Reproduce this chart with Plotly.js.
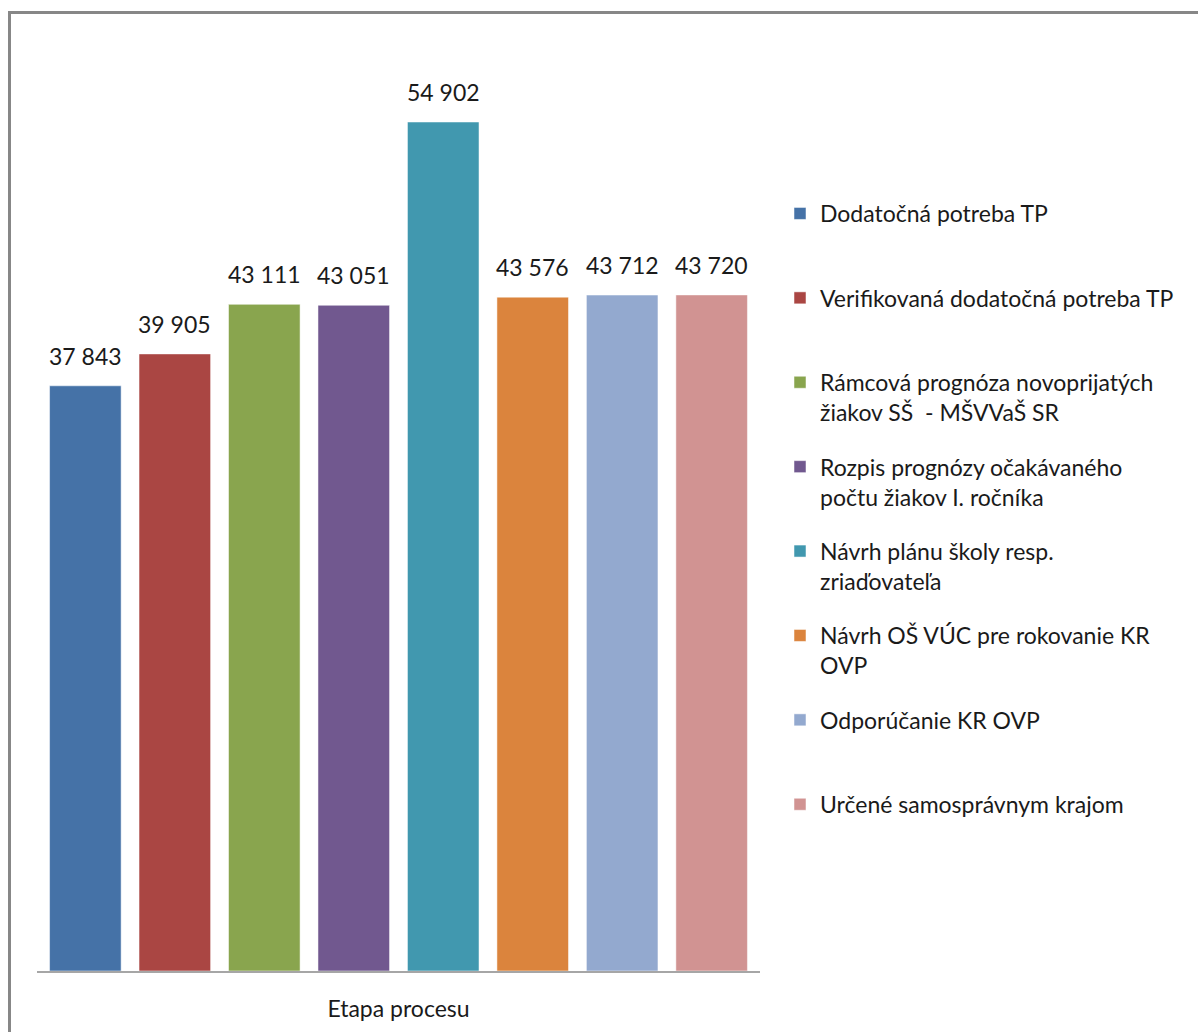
<!DOCTYPE html>
<html>
<head>
<meta charset="utf-8">
<script src="https://cdn.plot.ly/plotly-3.0.1.min.js"></script>
<style>
  html, body { margin: 0; padding: 0; background: #fff; }
  #wrap { position: relative; width: 1198px; height: 1032px; overflow: hidden; }
  #frame { position: absolute; left: 8px; top: 11px; width: 1300px; height: 1200px;
           border-top: 3px solid #878787; border-left: 3px solid #878787; pointer-events: none; }
  #chart { position: absolute; left: 0; top: 0; width: 1198px; height: 1032px; }
</style>
</head>
<body>
<div id="wrap">
  <div id="chart"></div>
  <div id="frame"></div>
</div>
<script>
const categories = ['Etapa procesu'];
const seriesNames = [
  'Dodatočná potreba TP',
  'Verifikovaná dodatočná potreba TP',
  'Rámcová prognóza novoprijatých<br>žiakov SŠ  - MŠVVaŠ SR',
  'Rozpis prognózy očakávaného<br>počtu žiakov I. ročníka',
  'Návrh plánu školy resp.<br>zriaďovateľa',
  'Návrh OŠ VÚC pre rokovanie KR<br>OVP',
  'Odporúčanie KR OVP',
  'Určené samosprávnym krajom'
];
const seriesValues = [37843, 39905, 43111, 43051, 54902, 43576, 43712, 43720];
const seriesColors = ['#4572A7', '#AA4643', '#89A54E', '#71588F', '#4198AF', '#DB843D', '#93A9CF', '#D19392'];

const FONT = 'Lato, "Open Sans", sans-serif';
const bargap = 0.01;
const n = seriesNames.length;

function fmt(v) { return String(v).replace(/\B(?=(\d{3})+(?!\d))/g, ' '); }

const traces = seriesNames.map((name, i) => ({
  type: 'bar',
  name: name.indexOf('<br>') >= 0 ? name : name + '<br>\u00a0',
  x: categories,
  y: [seriesValues[i]],
  marker: { color: seriesColors[i], line: { width: 1, color: 'rgba(255,255,255,0.5)' } },
  legendgroup: 'g' + i,
  hoverinfo: 'none'
}));

const annotations = seriesValues.map((v, i) => ({
  xref: 'x', yref: 'y',
  x: (i - (n - 1) / 2) * (1 - bargap) / n,
  y: v,
  text: fmt(v),
  showarrow: false,
  xanchor: 'center', yanchor: 'bottom',
  yshift: 14,
  font: { family: FONT, size: 23, color: '#1a1a1a' }
}));

const layout = {
  width: 1198, height: 1032,
  margin: { l: 37, r: 438, t: 60, b: 61 },
  paper_bgcolor: '#fff', plot_bgcolor: '#fff',
  barmode: 'group',
  bargap: bargap,
  bargroupgap: 0.2,
  showlegend: true,
  legend: {
    xref: 'container', yref: 'container',
    x: 780 / 1198, y: 1 - 192 / 1032,
    xanchor: 'left', yanchor: 'top',
    traceorder: 'grouped',
    tracegroupgap: 21.6,
    valign: 'top',
    maxheight: 1,
    font: { family: FONT, size: 23, color: '#1a1a1a' },
    bgcolor: 'rgba(0,0,0,0)'
  },
  xaxis: {
    type: 'category',
    showline: true, linecolor: '#a6a6a6', linewidth: 2,
    showgrid: false, zeroline: false, ticks: '',
    ticklabelstandoff: 16,
    tickfont: { family: FONT, size: 23, color: '#1a1a1a' }
  },
  yaxis: {
    range: [0, 58911],
    showgrid: false, zeroline: false, showticklabels: false, showline: false, ticks: ''
  },
  annotations: annotations
};

Plotly.newPlot('chart', traces, layout, { staticPlot: true, displayModeBar: false });
</script>
</body>
</html>
